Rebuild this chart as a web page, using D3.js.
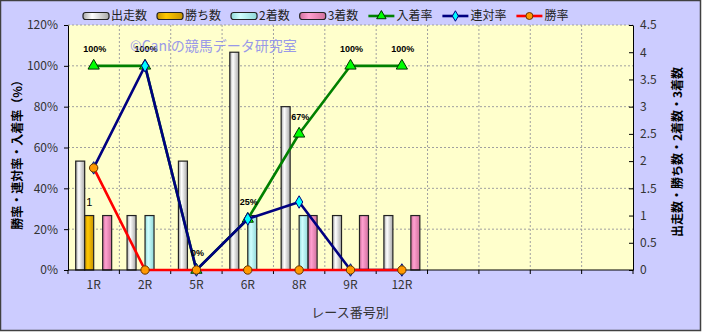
<!DOCTYPE html>
<html>
<head>
<meta charset="utf-8">
<script src="https://cdn.jsdelivr.net/npm/d3@7"></script>
<style>
  body { margin: 0; background: #fff; }
  text { font-family: "Noto Sans CJK JP", "Noto Sans", sans-serif; }
</style>
</head>
<body>
<div id="chart"></div>
<script>
// DATA
var raceLabels = ["1R", "2R", "5R", "6R", "8R", "9R", "12R"];
var slotCount = 11; // the chart keeps room for 11 races
var starters = [2, 1, 2, 4, 3, 1, 1];
var wins = [1, 0, 0, 0, 0, 0, 0];
var seconds = [0, 1, 0, 1, 1, 0, 0];
var thirds = [1, 0, 0, 0, 1, 1, 1];
var placeRate = [100, 100, 0, 25, 66.7, 100, 100];
var rentaiRate = [50, 100, 0, 25, 33.3, 0, 0];
var winRate = [50, 0, 0, 0, 0, 0, 0];
var placeLabels = ["100%", "100%", "0%", "25%", "67%", "100%", "100%"];
var winCountLabels = ["1", "", "", "", "", "", ""];
var leftTicks = [0, 20, 40, 60, 80, 100, 120];
var rightTicks = [0, 0.5, 1, 1.5, 2, 2.5, 3, 3.5, 4, 4.5];

function drawChart() {
  var W = 703, H = 333;
  var plot = { left: 68, right: 633, top: 25, bottom: 270 };

  var svg = d3.select("#chart").append("svg")
    .attr("width", W)
    .attr("height", H);
  var defs = svg.append("defs");

  function gradient(id, edge, mid) {
    var g = defs.append("linearGradient")
      .attr("id", id)
      .attr("x1", "0%").attr("x2", "100%")
      .attr("y1", "0%").attr("y2", "0%");
    g.append("stop").attr("offset", "0%").attr("stop-color", edge);
    g.append("stop").attr("offset", "35%").attr("stop-color", mid);
    g.append("stop").attr("offset", "100%").attr("stop-color", edge);
  }

  var barSeries = [
    { name: "出走数", values: starters, id: "gStart", edge: "#a8a8a8", mid: "#ffffff" },
    { name: "勝ち数", values: wins, id: "gWin", edge: "#c89400", mid: "#ffc800" },
    { name: "2着数", values: seconds, id: "gSecond", edge: "#8fd8d8", mid: "#d0ffff" },
    { name: "3着数", values: thirds, id: "gThird", edge: "#d0709c", mid: "#ffa0d0" }
  ];
  barSeries.forEach((s) => gradient(s.id, s.edge, s.mid));

  var lineSeries = [
    { name: "入着率", values: placeRate, stroke: "#008000", fill: "#00ff00", mstroke: "#003300", symbol: d3.symbolTriangle, size: 55 },
    { name: "連対率", values: rentaiRate, stroke: "#000080", fill: "#00ffff", mstroke: "#000080", symbol: d3.symbolDiamond, size: 45 },
    { name: "勝率", values: winRate, stroke: "#ff0000", fill: "#ff9900", mstroke: "#663300", symbol: d3.symbolCircle, size: 55 }
  ];

  // BACKGROUND
  svg.append("rect")
    .attr("x", 0.5).attr("y", 0.5)
    .attr("width", 700).attr("height", 330)
    .attr("fill", "#ccccff")
    .attr("stroke", "#404040")
    .attr("stroke-width", 1.5);

  svg.append("rect")
    .attr("x", plot.left).attr("y", plot.top)
    .attr("width", plot.right - plot.left)
    .attr("height", plot.bottom - plot.top)
    .attr("fill", "#ffffcc");

  // SCALES
  var xScale = d3.scaleBand()
    .domain(d3.range(slotCount))
    .range([plot.left, plot.right]);
  var bw = xScale.bandwidth();
  var center = (i) => xScale(i) + bw / 2;

  var yLeft = d3.scaleLinear().domain([0, 120]).range([plot.bottom, plot.top]);
  var yRight = d3.scaleLinear().domain([0, 4.5]).range([plot.bottom, plot.top]);

  // GRID
  svg.append("g")
    .selectAll("line")
    .data(leftTicks.slice(1))
    .enter()
    .append("line")
    .attr("x1", plot.left).attr("x2", plot.right)
    .attr("y1", (d) => yLeft(d)).attr("y2", (d) => yLeft(d))
    .attr("stroke", "#a0a0a0")
    .attr("stroke-dasharray", "2,2");

  svg.append("g")
    .selectAll("line")
    .data(d3.range(1, slotCount))
    .enter()
    .append("line")
    .attr("x1", (d) => xScale(d)).attr("x2", (d) => xScale(d))
    .attr("y1", plot.top).attr("y2", plot.bottom)
    .attr("stroke", "#a0a0a0")
    .attr("stroke-dasharray", "2,2");

  // BARS
  var groupW = bw * 0.7;
  var barW = groupW / barSeries.length;
  barSeries.forEach(function (s, j) {
    svg.append("g")
      .selectAll("rect")
      .data(s.values.map((v, i) => ({ v: v, i: i })).filter((d) => d.v > 0))
      .enter()
      .append("rect")
      .attr("x", (d) => xScale(d.i) + (bw - groupW) / 2 + j * barW)
      .attr("y", (d) => yRight(d.v))
      .attr("width", barW)
      .attr("height", (d) => yRight(0) - yRight(d.v))
      .attr("fill", "url(#" + s.id + ")")
      .attr("stroke", "#222")
      .attr("stroke-width", 1.2);
  });

  // AXES
  var axisLeft = d3.axisLeft(yLeft)
    .tickValues(leftTicks)
    .tickFormat((d) => d + "%")
    .tickSizeInner(4)
    .tickSizeOuter(0)
    .tickPadding(6);
  var gl = svg.append("g")
    .attr("transform", "translate(" + plot.left + ",0)")
    .call(axisLeft);

  var axisRight = d3.axisRight(yRight)
    .tickValues(rightTicks)
    .tickFormat((d) => String(d))
    .tickSizeInner(-4)
    .tickSizeOuter(0)
    .tickPadding(7);
  var gr = svg.append("g")
    .attr("transform", "translate(" + plot.right + ",0)")
    .call(axisRight);

  // bottom axis: ticks on the slot edges, labels in the middle
  var gb = svg.append("g");
  gb.append("line")
    .attr("x1", plot.left).attr("x2", plot.right)
    .attr("y1", plot.bottom).attr("y2", plot.bottom)
    .attr("stroke", "#000");
  gb.selectAll(".xtick")
    .data(d3.range(slotCount + 1))
    .enter()
    .append("line")
    .attr("class", "xtick")
    .attr("x1", (d) => plot.left + d * bw).attr("x2", (d) => plot.left + d * bw)
    .attr("y1", plot.bottom).attr("y2", plot.bottom + 4)
    .attr("stroke", "#000");
  gb.selectAll(".xlabel")
    .data(raceLabels)
    .enter()
    .append("text")
    .attr("class", "xlabel")
    .attr("x", (d, i) => center(i))
    .attr("y", 289)
    .attr("text-anchor", "middle");

  [gl, gr].forEach(function (g) {
    g.select(".domain").attr("stroke", "#000");
    g.selectAll(".tick line").attr("stroke", "#000");
  });
  svg.selectAll(".tick text, .xlabel")
    .style("font-size", "12px")
    .style("fill", "#333")
    .style("font-family", "'Noto Sans CJK JP', sans-serif");
  gb.selectAll(".xlabel").text((d) => d);

  // LINES
  lineSeries.forEach(function (s) {
    var line = d3.line()
      .x((d, i) => center(i))
      .y((d) => yLeft(d));
    svg.append("path")
      .datum(s.values)
      .attr("d", line)
      .attr("fill", "none")
      .attr("stroke", s.stroke)
      .attr("stroke-width", 2.6);
    svg.append("g")
      .selectAll("path")
      .data(s.values)
      .enter()
      .append("path")
      .attr("d", d3.symbol().type(s.symbol).size(s.size))
      .attr("transform", (d, i) => "translate(" + center(i) + "," + yLeft(d) + ")")
      .attr("fill", s.fill)
      .attr("stroke", s.mstroke)
      .attr("stroke-width", 1);
  });

  // DATA LABELS
  svg.append("g")
    .selectAll("text")
    .data(placeLabels)
    .enter()
    .append("text")
    .attr("x", (d, i) => center(i) + 1)
    .attr("y", (d, i) => yLeft(placeRate[i]) - 17)
    .attr("dy", "0.35em")
    .attr("text-anchor", "middle")
    .style("font-family", "'Liberation Sans', Arial, sans-serif")
    .style("font-weight", "bold")
    .style("font-size", "9px")
    .text((d) => d);

  svg.append("g")
    .selectAll("text")
    .data(winCountLabels)
    .enter()
    .append("text")
    .attr("x", (d, i) => xScale(i) + (bw - groupW) / 2 + 1.5 * barW)
    .attr("y", (d, i) => yRight(wins[i]) - 13)
    .attr("dy", "0.35em")
    .attr("text-anchor", "middle")
    .style("font-family", "'Liberation Sans', Arial, sans-serif")
    .style("font-size", "11px")
    .text((d) => d);

  // WATERMARK
  svg.append("text")
    .attr("x", 130)
    .attr("y", 46)
    .attr("dy", "0.35em")
    .style("font-size", "14px")
    .style("fill", "#8888ee")
    .style("opacity", 0.85)
    .text("©Caniの競馬データ研究室");

  // AXIS TITLES
  svg.append("text")
    .attr("transform", "translate(18,152) rotate(-90)")
    .attr("text-anchor", "middle")
    .attr("dy", "0.35em")
    .style("font-size", "12px")
    .style("font-weight", "bold")
    .text("勝率・連対率・入着率（%）");

  svg.append("text")
    .attr("transform", "translate(678,152) rotate(-90)")
    .attr("text-anchor", "middle")
    .attr("dy", "0.35em")
    .style("font-size", "12px")
    .style("font-weight", "bold")
    .text("出走数・勝ち数・2着数・3着数");

  svg.append("text")
    .attr("x", 350)
    .attr("y", 312)
    .attr("dy", "0.35em")
    .attr("text-anchor", "middle")
    .style("font-size", "13px")
    .style("fill", "#333")
    .text("レース番号別");

  // LEGEND
  var legend = svg.append("g").attr("transform", "translate(83,16)");
  var lx = 0;
  barSeries.concat(lineSeries).forEach(function (s) {
    var item = legend.append("g").attr("transform", "translate(" + lx + ",0)");
    if (s.id) {
      item.append("rect")
        .attr("x", 0).attr("y", -3.5)
        .attr("width", 26).attr("height", 7)
        .attr("rx", 2.5)
        .attr("fill", "url(#" + s.id + ")")
        .attr("stroke", "#222")
        .attr("stroke-width", 1.2);
    } else {
      item.append("line")
        .attr("x1", 0).attr("x2", 26)
        .attr("y1", 0).attr("y2", 0)
        .attr("stroke", s.stroke)
        .attr("stroke-width", 2.6);
      item.append("path")
        .attr("d", d3.symbol().type(s.symbol).size(s.size * 0.7))
        .attr("transform", "translate(13,0)")
        .attr("fill", s.fill)
        .attr("stroke", s.mstroke)
        .attr("stroke-width", 1);
    }
    var t = item.append("text")
      .attr("x", 28)
      .attr("dy", "0.35em")
      .style("font-size", "12px")
      .style("fill", "#222")
      .text(s.name);
    lx += 28 + t.node().getComputedTextLength() + 10;
  });
}

drawChart();
</script>
</body>
</html>
